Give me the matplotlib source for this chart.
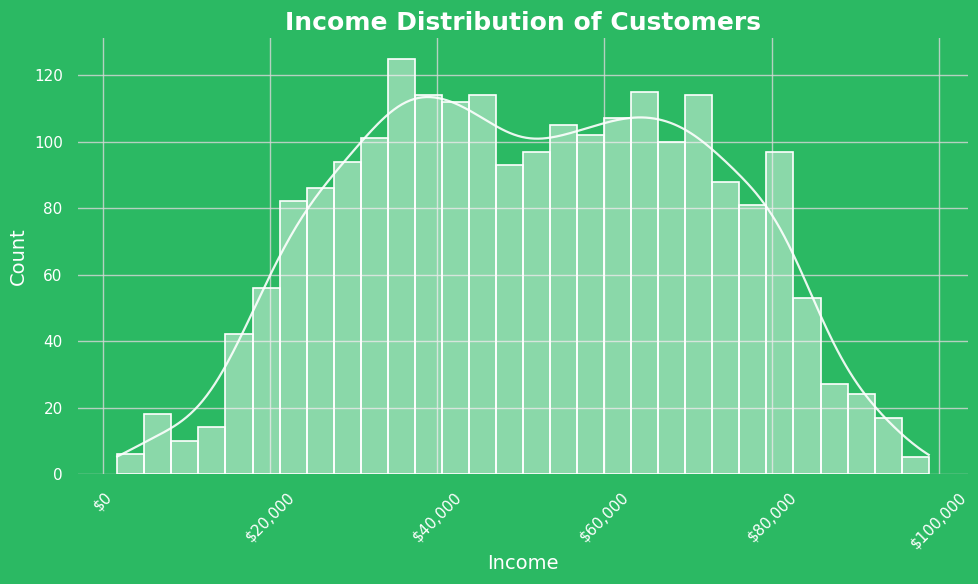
import numpy as np
import matplotlib
matplotlib.use("Agg")
import matplotlib.pyplot as plt
from matplotlib.ticker import FuncFormatter

# Histogram data (30 bins)
bin_start = 1700.0
bin_end = 98800.0
counts = [6, 18, 10, 14, 42, 56, 82, 86, 94, 101, 125, 114, 112, 114, 93,
          97, 105, 102, 107, 115, 100, 114, 88, 81, 97, 53, 27, 24, 17, 5]
x_ticks = [0, 20000, 40000, 60000, 80000, 100000]
y_ticks = [0, 20, 40, 60, 80, 100, 120]

BG = "#2bb963"

counts = np.array(counts, dtype=float)
edges = np.linspace(bin_start, bin_end, len(counts) + 1)
centers = (edges[:-1] + edges[1:]) / 2
width = edges[1] - edges[0]

fig = plt.figure(figsize=(9.79, 5.84), dpi=100)
fig.patch.set_facecolor(BG)
ax = fig.add_axes([78/979, 1 - 474/584, (968-78)/979, (474-38)/584])
ax.set_facecolor(BG)
ax.set_axisbelow(True)
ax.grid(True, color="#d8d8d8", linewidth=1.0, alpha=0.8)

ax.bar(edges[:-1], counts, width=width, align="edge", color="white",
       alpha=0.45, edgecolor="none")
ax.bar(edges[:-1], counts, width=width, align="edge", fill=False,
       edgecolor="white", linewidth=1.2)

# KDE from binned data (weighted gaussian, Scott bandwidth)
n = counts.sum()
mean = np.sum(centers * counts) / n
std = np.sqrt(np.sum(counts * (centers - mean) ** 2) / n)
bw = std * n ** (-1 / 5)
xs = np.linspace(bin_start, bin_end, 400)
dens = np.sum(counts[None, :] * np.exp(-0.5 * ((xs[:, None] - centers[None, :]) / bw) ** 2), axis=1)
dens /= (n * bw * np.sqrt(2 * np.pi))
ax.plot(xs, dens * n * width, color="white", linewidth=1.6, alpha=0.9)

ax.set_xlim(-3000, 103500)
ax.set_ylim(0, 131.2)
ax.set_xticks(x_ticks)
ax.set_yticks(y_ticks)
ax.xaxis.set_major_formatter(FuncFormatter(lambda v, p: f"${v:,.0f}"))
ax.tick_params(axis="both", colors="white", length=0, labelsize=11, pad=11)
plt.setp(ax.get_xticklabels(), rotation=45, ha="center")
for s in ax.spines.values():
    s.set_visible(False)

ax.set_title("Income Distribution of Customers", color="white",
             fontsize=18, fontweight="bold", pad=6)
ax.set_xlabel("Income", color="white", fontsize=14, labelpad=2)
ax.set_ylabel("Count", color="white", fontsize=14, labelpad=4)

fig.savefig("out.png", dpi=100, facecolor=BG)
